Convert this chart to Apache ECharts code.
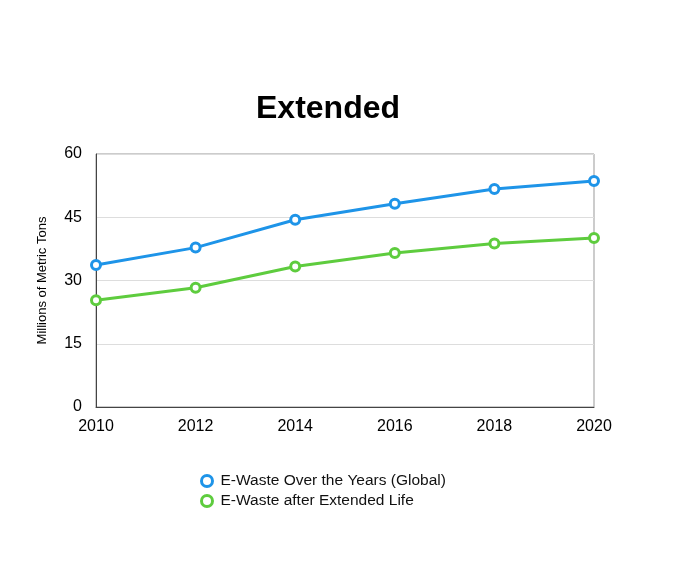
<!DOCTYPE html>
<html><head><meta charset="utf-8">
<script src="https://cdn.jsdelivr.net/npm/echarts@6/dist/echarts.min.js"></script>
<style>html,body{margin:0;padding:0;background:#fff}#c{width:677px;height:572px}</style>
</head><body><div id="c"></div>
<script>
const years = ['2010','2012','2014','2016','2018','2020'];
const globalWaste = [33.7, 37.8, 44.4, 48.2, 51.7, 53.6];
const extendedWaste = [25.3, 28.3, 33.3, 36.5, 38.8, 40.1];
const seriesNames = ['E-Waste Over the Years (Global)', 'E-Waste after Extended Life'];
const colors = ['#1E94E8', '#5ECC3E'];
const FONT = '"Liberation Sans", Arial, Helvetica, sans-serif';
const chart = echarts.init(document.getElementById('c'));
chart.setOption({
  animation: false,
  textStyle: {fontFamily: FONT},
  title: {text: 'Extended', left: 251, top: 88,
    textStyle: {fontFamily: FONT, fontSize: 32, fontWeight: 'bold', color: '#000'}},
  grid: {left: 96, right: 83, top: 154, bottom: 165, show: true, borderColor: '#999', borderWidth: 1},
  legend: {orient: 'vertical', left: 195, top: 468, itemGap: 4, itemWidth: 11, itemHeight: 11,
    icon: 'circle',
    itemStyle: {borderWidth: 3},
    textStyle: {fontFamily: FONT, fontSize: 15.5, color: '#111', padding: [0, 0, 0, 3]},
    data: seriesNames},
  xAxis: {type: 'category', data: years, boundaryGap: false,
    axisLine: {lineStyle: {color: '#444', width: 1}},
    axisTick: {show: false},
    axisLabel: {fontSize: 16, color: '#000', margin: 12, fontFamily: FONT},
    splitLine: {show: false}},
  yAxis: {type: 'value', min: 0, max: 60, interval: 15,
    name: 'Millions of Metric Tons', nameLocation: 'middle', nameGap: 47, nameRotate: 90,
    nameTextStyle: {fontSize: 13, color: '#000', fontFamily: FONT},
    axisLine: {show: true, lineStyle: {color: '#444', width: 1}},
    axisTick: {show: false},
    axisLabel: {fontSize: 16, color: '#000', margin: 14, fontFamily: FONT},
    splitLine: {lineStyle: {color: '#ddd', width: 1}}},
  series: [
    {name: seriesNames[0], type: 'line', data: globalWaste, symbol: 'circle', symbolSize: 9,
      lineStyle: {color: colors[0], width: 3},
      itemStyle: {color: '#fff', borderColor: colors[0], borderWidth: 3}},
    {name: seriesNames[1], type: 'line', data: extendedWaste, symbol: 'circle', symbolSize: 9,
      lineStyle: {color: colors[1], width: 3},
      itemStyle: {color: '#fff', borderColor: colors[1], borderWidth: 3}}
  ]
});
</script></body></html>
